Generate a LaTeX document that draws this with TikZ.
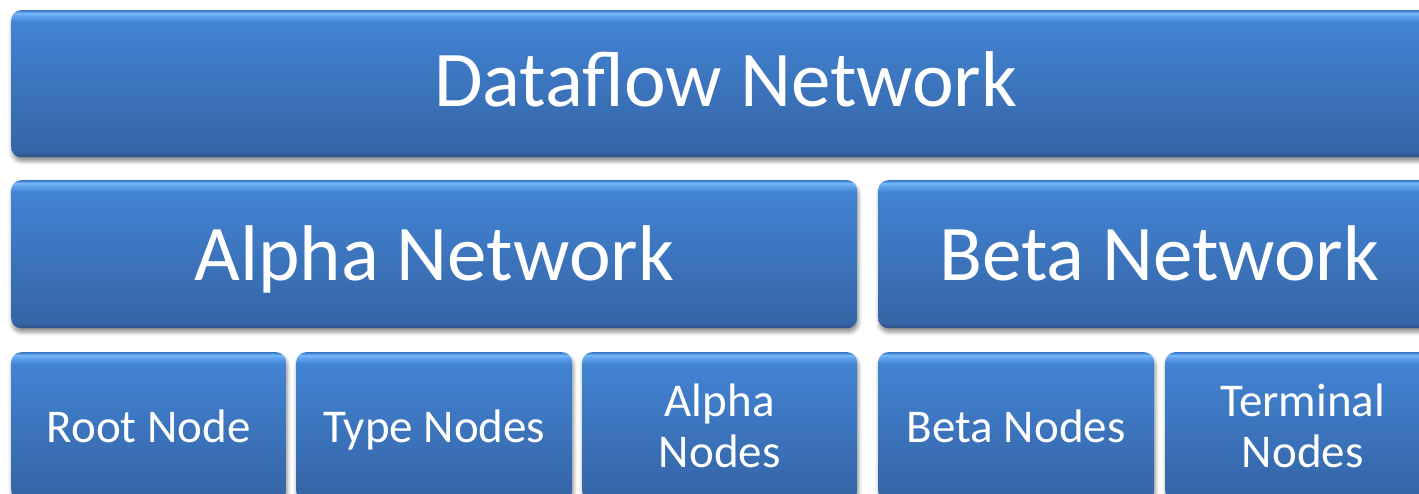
\documentclass[tikz,border=0pt]{standalone}
\usepackage{fontspec}
\setmainfont{Carlito}
\usetikzlibrary{shadows.blur}
\definecolor{eBot}{HTML}{2B5080}
\definecolor{bBand}{HTML}{2F5892}
\definecolor{bBot}{HTML}{3565A6}
\definecolor{bTop}{HTML}{4283D3}
\definecolor{bHi1}{HTML}{5FA2EC}
\definecolor{bHi2}{HTML}{76B8F8}
\definecolor{bHi3}{HTML}{4D8EDD}
\definecolor{eTop}{HTML}{3A75C5}
\pgfdeclareverticalshading{bevelblue}{100bp}{%
  color(0bp)=(eBot); color(25bp)=(eBot); color(25.6bp)=(bBand);
  color(27bp)=(bBot); color(71bp)=(bTop); color(73bp)=(bHi1);
  color(74bp)=(bHi2); color(74.6bp)=(bHi3); color(75bp)=(eTop);
  color(100bp)=(eTop)}
\tikzset{
  blk/.style={anchor=north west, rounded corners=10pt, shading=bevelblue,
    text=white, align=center, inner sep=0pt,
    blur shadow={shadow xshift=1pt, shadow yshift=-4pt, shadow blur steps=6,
      shadow opacity=45, shadow blur radius=4pt}},
  bigtxt/.style={blk, font=\fontsize{79}{90}\selectfont, text height=52pt, text depth=0pt},
  smalltxt/.style={blk, font=\fontsize{47}{51}\selectfont, text height=32pt, text depth=0pt},
  twoline/.style={blk, font=\fontsize{47}{51}\selectfont},
}
\begin{document}
\begin{tikzpicture}[x=1pt,y=-1pt]
\useasboundingbox (0,0) rectangle (1419,494);
\clip (0,0) rectangle (1419,494);
\node[bigtxt, text depth=7pt, minimum width=1429pt, minimum height=147pt] (df) at (11,10) {Dataflow Network};
\node[bigtxt, minimum width=846pt, minimum height=148pt] (an) at (11,180) {Alpha Network};
\node[bigtxt, minimum width=562pt, minimum height=148pt] (bn) at (878,180) {Beta Network};
\node[smalltxt, minimum width=275pt, minimum height=148pt] (rn) at (11,352) {Root Node};
\node[smalltxt, minimum width=276pt, minimum height=148pt] (tn) at (296,352) {Type Nodes};
\node[twoline, minimum width=275pt, minimum height=148pt] (aln) at (582,352) {Alpha\\Nodes};
\node[smalltxt, minimum width=276pt, minimum height=148pt] (ben) at (878,352) {Beta Nodes};
\node[twoline, minimum width=275pt, minimum height=148pt] (ten) at (1165,352) {Terminal\\Nodes};
\end{tikzpicture}
\end{document}
